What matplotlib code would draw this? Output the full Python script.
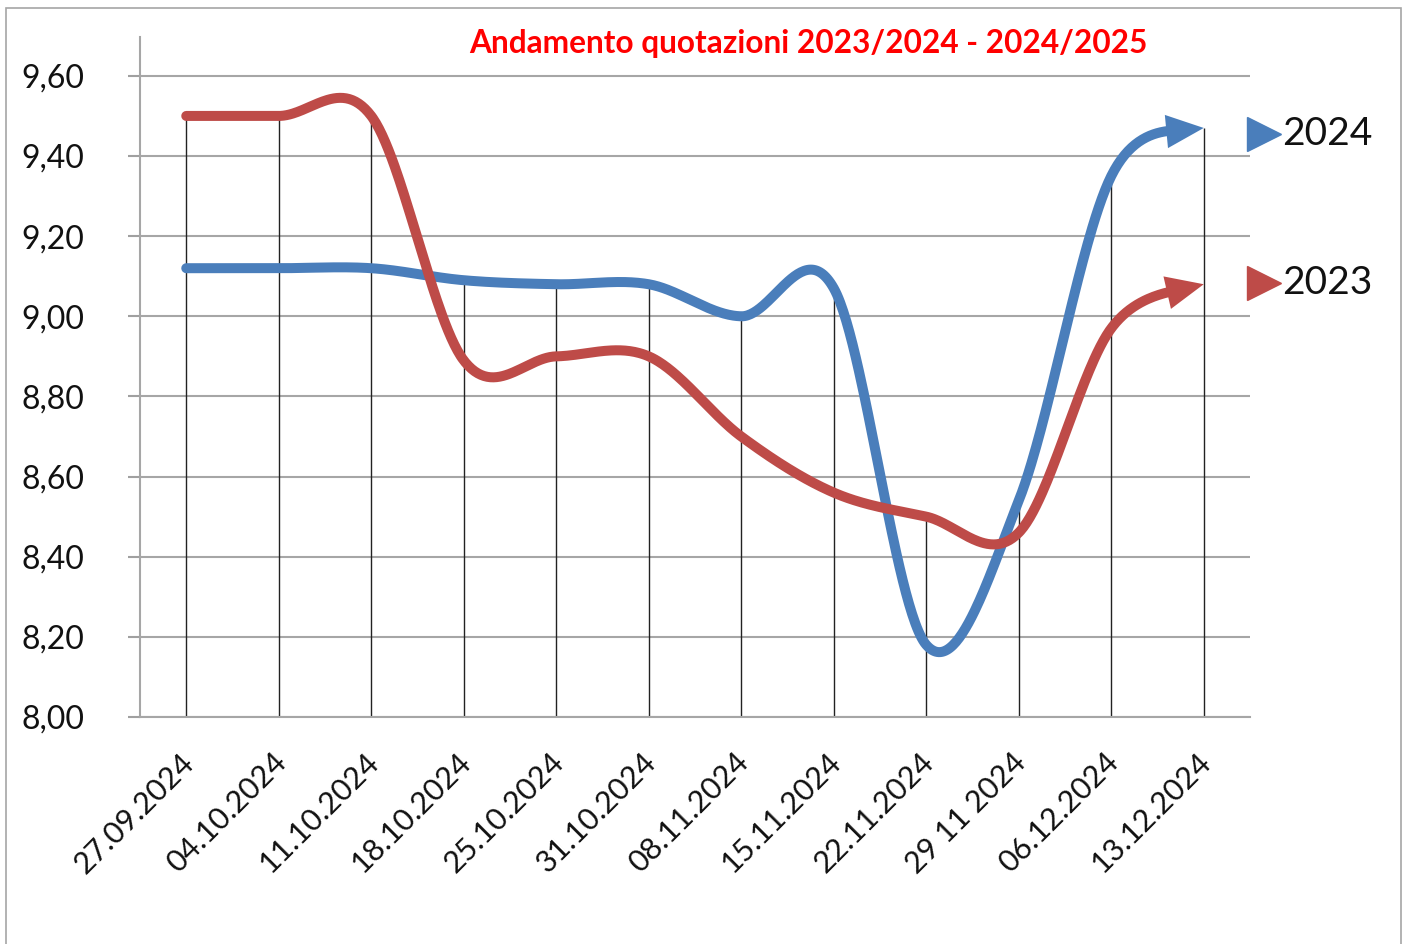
import numpy as np
import matplotlib
matplotlib.use("Agg")
import matplotlib.pyplot as plt
from matplotlib.lines import Line2D
from matplotlib.patches import Rectangle
import matplotlib.transforms as mtransforms

plt.rcParams['font.family'] = ['Lato', 'DejaVu Sans']

categories = ['27.09.2024', '04.10.2024', '11.10.2024', '18.10.2024', '25.10.2024',
              '31.10.2024', '08.11.2024', '15.11.2024', '22.11.2024', '29 11 2024',
              '06.12.2024', '13.12.2024']
values_2024 = [9.12, 9.12, 9.12, 9.09, 9.08, 9.08, 9.00, 9.07, 8.18, 8.54, 9.35, 9.47]
values_2023 = [9.50, 9.50, 9.50, 8.89, 8.90, 8.90, 8.70, 8.56, 8.50, 8.46, 8.97, 9.08]
yticks = [8.0, 8.2, 8.4, 8.6, 8.8, 9.0, 9.2, 9.4, 9.6]
title = 'Andamento quotazioni 2023/2024 - 2024/2025'
series_names = ['2024', '2023']

BLUE = '#4a7ebb'
RED = '#be4b48'

W, H = 1405, 944
fig = plt.figure(figsize=(W / 100, H / 100), dpi=100)
ax = fig.add_axes([140 / W, 1 - 717 / H, (1250 - 140) / W, (717 - 37) / H])


def smooth(y, n=60):
    """Excel-like smoothed line: cubic Bezier with Catmull-Rom control points."""
    x = np.arange(len(y), dtype=float)
    y = np.asarray(y, dtype=float)
    P = np.column_stack([x, y])
    pts = []
    for i in range(len(P) - 1):
        p0 = P[i]
        p3 = P[i + 1]
        pm = P[i - 1] if i > 0 else P[i]
        pp = P[i + 2] if i + 2 < len(P) else P[i + 1]
        p1 = p0 + (p3 - pm) / 6.0
        p2 = p3 - (pp - p0) / 6.0
        t = np.linspace(0, 1, n)[:, None]
        seg = ((1 - t) ** 3) * p0 + 3 * ((1 - t) ** 2) * t * p1 + 3 * (1 - t) * t ** 2 * p2 + t ** 3 * p3
        if i > 0:
            seg = seg[1:]
        pts.append(seg)
    return np.vstack(pts)


# drop lines
xs = np.arange(len(categories))
ax.vlines(xs, 8.0, np.maximum(values_2024, values_2023), color='#222222', lw=1.0, zorder=2)

for vals, col in [(values_2024, BLUE), (values_2023, RED)]:
    c = smooth(vals)
    tipx = len(vals) - 1
    keep = c[:, 0] <= tipx - 0.25
    ax.plot(c[keep, 0], c[keep, 1], color=col, lw=7.2, solid_capstyle='round',
            solid_joinstyle='round', zorder=3)
    back = c[np.argmin(np.abs(c[:, 0] - (tipx - 0.45)))]
    ax.annotate('', xy=(tipx, vals[-1]), xytext=(back[0], back[1]),
                arrowprops=dict(arrowstyle='-|>,head_length=27,head_width=12',
                                mutation_scale=1, color=col, lw=0,
                                shrinkA=0, shrinkB=0), zorder=4)

ax.set_xlim(-0.5, len(categories) - 0.5)
ax.set_ylim(8.0, 9.697)
ax.set_yticks(yticks)
ax.set_yticklabels([f'{v:.2f}'.replace('.', ',') for v in yticks], fontsize=23, color='#111111')
ax.set_xticks(xs)
ax.set_xticklabels([])

# x category labels, rotated
lab_tr = ax.get_xaxis_transform() + mtransforms.ScaledTranslation(-7 / 100, -31 / 100, fig.dpi_scale_trans)
for i, cat in enumerate(categories):
    ax.text(i, 0, cat, transform=lab_tr, rotation=45, ha='right', va='top',
            rotation_mode='anchor', fontsize=22, color='#111111', clip_on=False)

ax.tick_params(axis='x', length=0)
ax.tick_params(axis='y', length=9, width=1.5, color='#a0a0a0', pad=31)
ax.grid(axis='y', color='#a6a6a6', lw=1.5, zorder=0)
ax.set_axisbelow(True)
for s in ['top', 'right']:
    ax.spines[s].set_visible(False)
for s in ['left', 'bottom']:
    ax.spines[s].set_color('#a6a6a6')
    ax.spines[s].set_linewidth(1.5)

fig.text(808 / W, 1 - 43 / H, title, ha='center', va='center', color='#ff0000',
         fontsize=22.8, fontweight='bold')

for name, col, yp in [(series_names[0], BLUE, 134), (series_names[1], RED, 283)]:
    fig.add_artist(Line2D([1264 / W], [1 - yp / H], marker='>', markersize=25,
                          color=col, transform=fig.transFigure, linestyle='none'))
    fig.text(1282 / W, 1 - yp / H, name, ha='left', va='center', fontsize=28, color='#111111')

fig.add_artist(Rectangle((6 / W, -0.01), (1401 - 6) / W, 1 - 8 / H + 0.01,
                         transform=fig.transFigure, fill=False, ec='#a6a6a6', lw=1.2))

fig.savefig('out.png', dpi=100)
